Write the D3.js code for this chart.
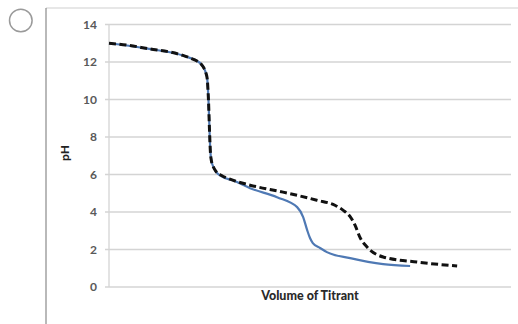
<!DOCTYPE html>
<html><head><meta charset="utf-8">
<script src="https://cdn.jsdelivr.net/npm/d3@7"></script>
<style>body{margin:0;background:#fff;} svg{display:block;}</style>
</head><body>
<svg id="c" width="518" height="324"></svg>
<script>
// Data (volume in arbitrary units 0..100, pH)
const yTicks = [0, 2, 4, 6, 8, 10, 12, 14];
const xLabel = "Volume of Titrant";
const yLabel = "pH";
const dashedVol = [0, 5.2, 10, 15.2, 18.4, 20.1, 21.9, 22.9, 23.6, 24.1, 24.45, 24.6, 24.75, 25.0, 25.2, 25.45, 25.9, 26.6, 27.9, 30.1, 35.1, 43.3, 51.7, 56.2, 58.2, 59.9, 61.2, 62.4, 64.2, 68.2, 76.6, 86.6];
const dashedPH  = [13.0, 12.88, 12.7, 12.53, 12.35, 12.22, 12.05, 11.89, 11.68, 11.42, 11.07, 10.59, 9.95, 8.36, 7.29, 6.76, 6.44, 6.17, 5.96, 5.75, 5.43, 5.06, 4.63, 4.36, 4.1, 3.78, 3.3, 2.66, 2.13, 1.6, 1.33, 1.12];
const blueVol = [0, 10, 18.4, 20.1, 21.9, 22.9, 23.6, 24.1, 24.45, 24.6, 24.75, 25.0, 25.2, 25.45, 25.9, 26.6, 27.6, 31.3, 35.1, 41.8, 46.8, 48.3, 49.3, 50.0, 50.7, 52.5, 54.2, 60.0, 68.2, 74.9];
const bluePH  = [13.0, 12.7, 12.35, 12.22, 12.05, 11.89, 11.68, 11.42, 11.07, 10.59, 9.95, 8.36, 7.29, 6.76, 6.44, 6.15, 5.95, 5.65, 5.27, 4.79, 4.26, 3.73, 3.03, 2.61, 2.34, 2.08, 1.86, 1.54, 1.22, 1.12];

const svg = d3.select("#c");
const x = d3.scaleLinear().domain([0, 100]).range([109, 511]);
const y = d3.scaleLinear().domain([0, 14]).range([287, 24.5]);

// frame
svg.append("line").attr("x1", 46).attr("x2", 518).attr("y1", 8).attr("y2", 8).attr("stroke", "#cfcfcf").attr("stroke-width", 1);
svg.append("line").attr("x1", 46).attr("x2", 46).attr("y1", 8).attr("y2", 324).attr("stroke", "#8a8a8a").attr("stroke-width", 1.2);
// radio circle
svg.append("circle").attr("cx", 20.8).attr("cy", 20.5).attr("r", 11.3).attr("fill", "none").attr("stroke", "#9a9a9a").attr("stroke-width", 1.5);

// gridlines
svg.append("g").selectAll("line").data(yTicks).join("line")
  .attr("x1", 105).attr("x2", 511).attr("y1", d => y(d)).attr("y2", d => y(d))
  .attr("stroke", "#d4d4d4").attr("stroke-width", 1.3);
// y axis line
svg.append("line").attr("x1", 109).attr("x2", 109).attr("y1", y(14)).attr("y2", y(0)).attr("stroke", "#d4d4d4").attr("stroke-width", 1.3);

// tick labels
svg.append("g").selectAll("text").data(yTicks).join("text")
  .attr("x", 97).attr("y", d => y(d)).attr("dy", "0.36em").attr("text-anchor", "end")
  .attr("font-family", "Lato, 'Open Sans', sans-serif").attr("font-size", 12).attr("font-weight", "bold")
  .attr("fill", "#595959").text(d => d);

// axis titles
svg.append("text").attr("transform", "translate(69,153) rotate(-90)").attr("text-anchor", "middle")
  .attr("font-family", "Lato, 'Open Sans', sans-serif").attr("font-size", 12).attr("font-weight", 900)
  .attr("fill", "#222").text(yLabel);
svg.append("text").attr("x", 310).attr("y", 300).attr("text-anchor", "middle")
  .attr("font-family", "Lato, 'Open Sans', sans-serif").attr("font-size", 12.5).attr("font-weight", 900)
  .attr("fill", "#2a2a2a").text(xLabel);

const lineM = d3.line().x(d => x(d[0])).y(d => y(d[1])).curve(d3.curveMonotoneX);

svg.append("path").datum(blueVol.map((v, i) => [v, bluePH[i]]))
  .attr("d", lineM).attr("fill", "none").attr("stroke", "#4f79b4").attr("stroke-width", 2.2);
svg.append("path").datum(dashedVol.map((v, i) => [v, dashedPH[i]]))
  .attr("d", lineM).attr("fill", "none").attr("stroke", "#111").attr("stroke-width", 3).attr("stroke-dasharray", "7,3.5");
</script>
</body></html>
